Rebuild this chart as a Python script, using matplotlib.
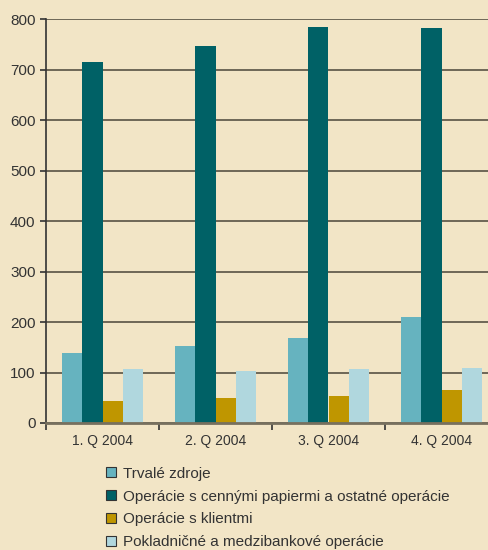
import matplotlib.pyplot as plt
from matplotlib.patches import Patch
import numpy as np

plt.rcParams['font.family'] = ['Liberation Sans', 'DejaVu Sans']

quarters = ["1. Q 2004", "2. Q 2004", "3. Q 2004", "4. Q 2004"]
series_names = [
    "Trvalé zdroje",
    "Operácie s cennými papiermi a ostatné operácie",
    "Operácie s klientmi",
    "Pokladničné a medzibankové operácie",
]
trvale = [139, 152, 168, 210]
cenne_papiere = [715, 746, 784, 782]
klienti = [44, 50, 54, 65]
pokladnicne = [107, 103, 107, 109]
colors = ["#66b3bf", "#006166", "#bf9600", "#b0d7de"]

bg = "#f2e5c6"
fig = plt.figure(figsize=(4.89, 5.5), dpi=100, facecolor=bg)
# plot area runs a little past the right edge of the figure
ax = fig.add_axes([46 / 489, 127 / 550, 452 / 489, 404 / 550])
ax.set_facecolor(bg)

x = np.arange(len(quarters))
w = 0.18
for i, (vals, c) in enumerate(zip([trvale, cenne_papiere, klienti, pokladnicne], colors)):
    ax.bar(x + (i - 1.5) * w, vals, w, color=c, zorder=3)

ax.set_xlim(-0.5, 3.5)
ax.set_ylim(0, 800)
ax.set_yticks(range(0, 801, 100))
ax.yaxis.grid(True, color="#4a4538", linewidth=1.1, zorder=1)
ax.set_xticks(x)
ax.set_xticklabels(quarters)
ax.set_xticks(np.arange(-0.5, 4, 1), minor=True)
ax.tick_params(axis='x', which='major', length=0, pad=8, labelsize=10, colors="#333333")
ax.tick_params(axis='x', which='minor', length=5, width=1.2, color="#333333")
ax.tick_params(axis='y', length=4, width=1.2, colors="#333333", labelsize=11)
for s in ['top', 'right']:
    ax.spines[s].set_visible(False)
ax.spines['left'].set_color("#333333")
ax.spines['left'].set_linewidth(1.2)
ax.spines['bottom'].set_color("#77705e")
ax.spines['bottom'].set_linewidth(2)
ax.spines['bottom'].set_zorder(4)

# legend with small outlined squares
handles = [Patch(facecolor=c, edgecolor="#333333", linewidth=0.8) for c in colors]
fig.legend(handles, series_names, loc='upper left', bbox_to_anchor=(92 / 489, 1 - 453 / 550),
           frameon=False, fontsize=11, handlelength=0.65, handleheight=0.65,
           handletextpad=0.45, labelspacing=0.58, labelcolor="#333333")

fig.savefig("out.png", dpi=100, facecolor=bg)
